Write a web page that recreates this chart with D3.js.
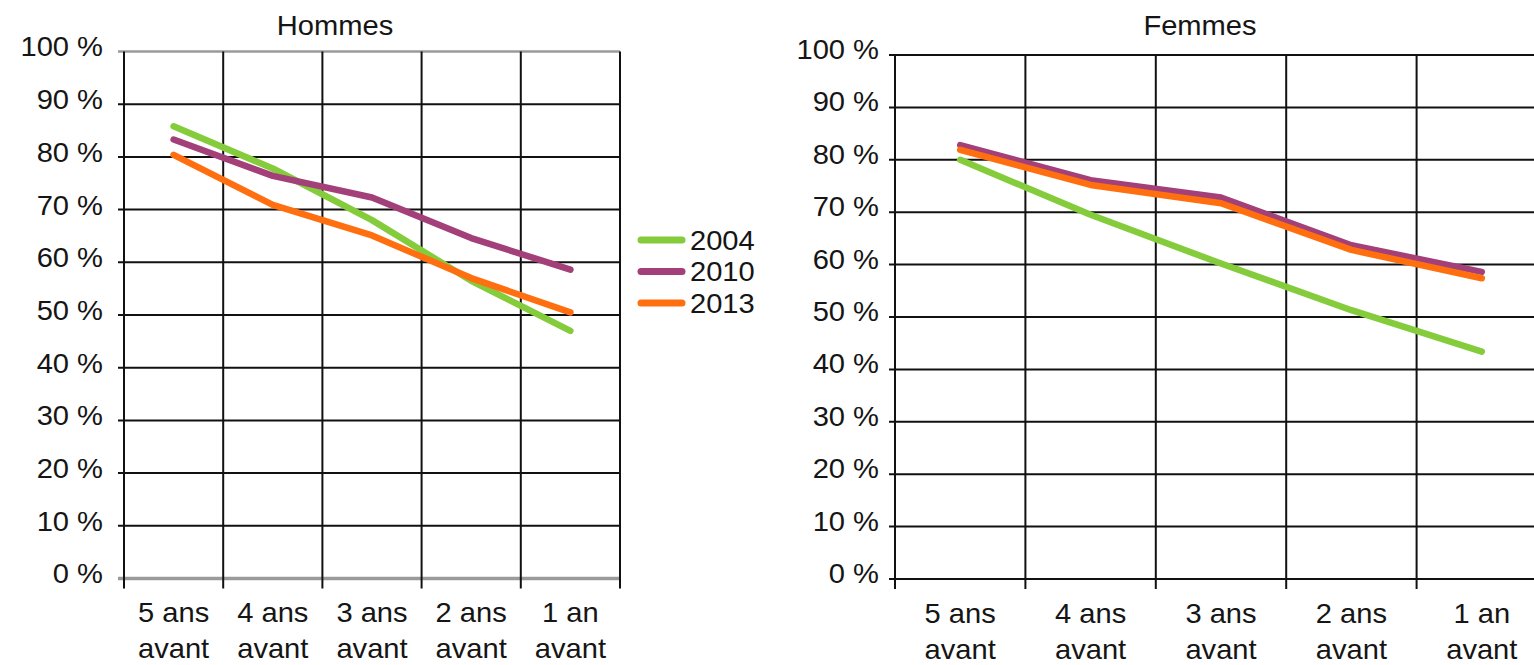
<!DOCTYPE html>
<html><head><meta charset="utf-8">
<script src="https://cdn.jsdelivr.net/npm/d3@7"></script>
<style>
body{margin:0;background:#fff;}
text{font-family:"Liberation Sans",Arial,sans-serif;fill:#151515;}
</style></head>
<body><svg id="c" width="1534" height="665"></svg>
<script>
const categories = ["5 ans|avant","4 ans|avant","3 ans|avant","2 ans|avant","1 an|avant"];
const yTicks = [0,10,20,30,40,50,60,70,80,90,100];
const years = ["2004","2010","2013"];
const colors = ["#84cc3c","#a3407a","#ff6f10"];
const hommes2004 = [85.8, 77.8, 68.0, 56.5, 47.0];
const hommes2010 = [83.3, 76.4, 72.3, 64.6, 58.6];
const hommes2013 = [80.4, 70.9, 65.1, 57.0, 50.5];
const femmes2004 = [80.0, 69.5, 60.2, 51.3, 43.4];
const femmes2010 = [82.8, 76.1, 72.8, 63.7, 58.6];
const femmes2013 = [81.9, 75.2, 71.7, 62.8, 57.4];

const svg = d3.select("#c");
const FS = 28;
const SX = 1.04;

function panel(cfg){
  const g = svg.append("g");
  const x = d3.scaleBand().domain(categories).range([cfg.x0, cfg.x1]);
  const y = d3.scaleLinear().domain([0,100]).range([cfg.y0, cfg.y1]);
  g.selectAll(".hg").data(yTicks).join("line")
    .attr("x1", cfg.x0-6).attr("x2", Math.min(cfg.x1, 1534))
    .attr("y1", d=>y(d)).attr("y2", d=>y(d))
    .attr("stroke", d=> (cfg.gray && (d===0||d===100)) ? "#9a9a9a" : "#111")
    .attr("stroke-width", d=> (cfg.gray && d===0) ? 3.5 : (cfg.gray && d===100 ? 2.5 : 2));
  const edges = categories.map(c=>x(c)).concat([cfg.x1]);
  g.selectAll(".vg").data(edges).join("line")
    .attr("x1", d=>d).attr("x2", d=>d)
    .attr("y1", y(100)).attr("y2", y(0)+10)
    .attr("stroke","#111").attr("stroke-width",2);
  g.selectAll(".yl").data(yTicks).join("text")
    .attr("x", cfg.labX).attr("y", d=>y(d)+cfg.labDy)
    .attr("text-anchor","end").attr("font-size",FS)
    .attr("transform", `translate(${cfg.labX},0) scale(${SX},1) translate(${-cfg.labX},0)`)
    .text(d=>d+" %");
  const xl = g.selectAll(".xl").data(categories).join("text")
    .attr("text-anchor","middle").attr("font-size",FS)
    .attr("transform", d=>`translate(${x(d)+x.bandwidth()/2},0) scale(${SX},1)`);
  xl.append("tspan").attr("x",0).attr("y",cfg.y0+44).text(d=>d.split("|")[0]);
  xl.append("tspan").attr("x",0).attr("y",cfg.y0+80).text(d=>d.split("|")[1]);
  g.append("text").attr("x",cfg.titleX).attr("y",35).attr("text-anchor","middle")
    .attr("font-size",FS).attr("transform",`translate(${cfg.titleX},0) scale(${SX},1) translate(${-cfg.titleX},0)`)
    .text(cfg.title);
  const line = d3.line().x((d,i)=>x(categories[i])+x.bandwidth()/2).y(d=>y(d)).curve(d3.curveLinear);
  cfg.series.forEach((s,k)=>{
    g.append("path").attr("d", line(s)).attr("fill","none")
      .attr("stroke", colors[k]).attr("stroke-width",6.5)
      .attr("stroke-linecap","round").attr("stroke-linejoin","round");
  });
}

panel({x0:124, x1:620, y0:578.5, y1:51.5, labX:103, labDy:5, gray:true, title:"Hommes", titleX:335,
  series:[hommes2004, hommes2010, hommes2013]});
panel({x0:895, x1:1547, y0:579, y1:55, labX:879, labDy:4, gray:false, title:"Femmes", titleX:1200,
  series:[femmes2004, femmes2010, femmes2013]});

const leg = svg.append("g");
years.forEach((yr,i)=>{
  const yy = 240 + i*31.5;
  leg.append("line").attr("x1",641).attr("x2",682).attr("y1",yy).attr("y2",yy)
    .attr("stroke",colors[i]).attr("stroke-width",7).attr("stroke-linecap","round");
  leg.append("text").attr("x",690).attr("y",yy+10).attr("font-size",FS)
    .attr("transform",`translate(690,0) scale(${SX},1) translate(-690,0)`).text(yr);
});
</script></body></html>
